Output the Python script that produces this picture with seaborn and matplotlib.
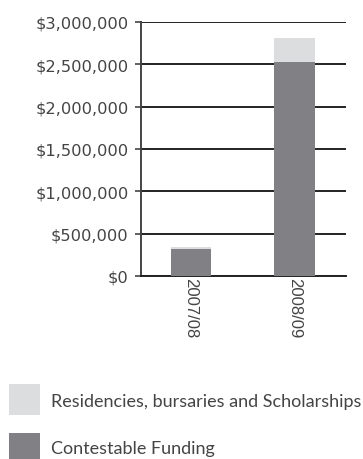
import matplotlib
matplotlib.use("Agg")
import matplotlib.pyplot as plt
from matplotlib.patches import Rectangle
from matplotlib.ticker import FuncFormatter, MultipleLocator
import seaborn as sns
import pandas as pd

years = ["2007/08", "2008/09"]
contestable = [322000, 2525000]
residencies = [20000, 285000]
series_names = ["Residencies, bursaries and Scholarships", "Contestable Funding"]

light = "#dcdddf"
dark = "#808085"

sns.set_theme(style="white")
plt.rcParams["font.family"] = ["DejaVu Sans"]

df = pd.DataFrame({
    "year": years,
    "contestable": contestable,
    "total": [c + r for c, r in zip(contestable, residencies)],
})

fig = plt.figure(figsize=(3.63, 4.60), dpi=100)
ax = fig.add_axes([141 / 363, 1 - 277 / 460, 205 / 363, 254 / 460])

sns.barplot(data=df, x="year", y="total", color=light, width=0.39,
            saturation=1, linewidth=0, edgecolor="none", ax=ax, zorder=3)
sns.barplot(data=df, x="year", y="contestable", color=dark, width=0.39,
            saturation=1, linewidth=0, edgecolor="none", ax=ax, zorder=3)

ax.set_ylim(0, 3000000)
ax.set_xlim(-0.485, 1.5)
ax.yaxis.set_major_locator(MultipleLocator(500000))
ax.yaxis.set_major_formatter(FuncFormatter(lambda v, p: f"${v:,.0f}"))
ax.grid(axis="y", color="#222222", linewidth=1.4, zorder=1)
ax.set_axisbelow(True)
ax.set_xlabel("")
ax.set_ylabel("")

for s in ["top", "right"]:
    ax.spines[s].set_visible(False)
ax.spines["left"].set_color("#444444")
ax.spines["left"].set_linewidth(1.4)
ax.spines["bottom"].set_color("#222222")
ax.spines["bottom"].set_linewidth(1.4)

ax.tick_params(axis="y", which="major", left=True, length=4, width=1.2,
               color="#444444", labelsize=11.7, labelcolor="#444444", pad=5,
               labelfontfamily="DejaVu Sans")
ax.set_xticks(range(len(years)))
ax.set_xticklabels(years, rotation=270, fontfamily="Liberation Sans",
                   fontsize=12, color="#444444", va="top", ha="center")
ax.tick_params(axis="x", bottom=False, pad=-5)

# legend swatches and labels
W, H = 363, 460
for (y0, yc, col, name) in [(385, 402.5, light, series_names[0]),
                            (434, 449.5, dark, series_names[1])]:
    fig.add_artist(Rectangle((9 / W, 1 - (y0 + 31) / H), 31 / W, 31 / H,
                             transform=fig.transFigure, facecolor=col,
                             edgecolor="none"))
    fig.text(51 / W, 1 - yc / H, name, fontsize=13,
             family="Lato", color="#444444", va="center", ha="left")

fig.savefig("out.png", dpi=100)
